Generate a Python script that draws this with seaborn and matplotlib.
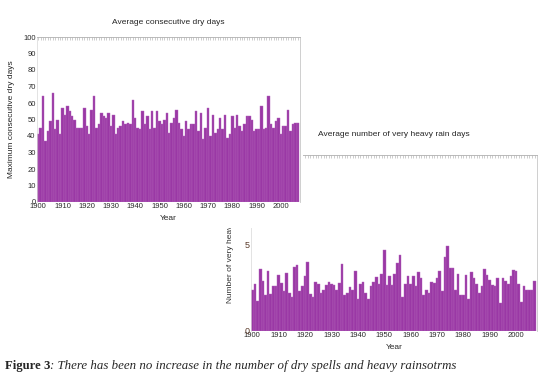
import numpy as np
import pandas as pd
import matplotlib
matplotlib.use("Agg")
import matplotlib.pyplot as plt
from matplotlib.patches import Rectangle
import seaborn as sns

# years 1900-2007
years = list(range(1900, 2008))

# average consecutive dry days
dry_days = [41, 45, 64, 37, 43, 49, 66, 44, 50, 41,
            57, 53, 58, 55, 52, 50, 45, 45, 45, 57,
            46, 41, 56, 64, 45, 47, 54, 52, 51, 54,
            46, 53, 41, 45, 46, 49, 47, 48, 47, 62,
            51, 45, 44, 55, 47, 52, 44, 55, 45, 55,
            49, 47, 50, 54, 42, 48, 51, 56, 48, 44,
            40, 49, 44, 47, 47, 55, 43, 54, 38, 45,
            57, 40, 53, 42, 44, 51, 44, 53, 39, 41,
            52, 45, 53, 46, 43, 47, 52, 52, 50, 43,
            44, 44, 58, 44, 45, 64, 47, 45, 49, 51,
            41, 46, 46, 56, 43, 47, 48, 48]

# average number of very heavy rain days
heavy_rain = [2.35, 2.75, 1.75, 3.6, 2.9, 2.1, 3.5, 2.15, 2.6, 2.6,
              3.25, 2.8, 2.3, 3.35, 2.2, 1.95, 3.7, 3.85, 2.3, 2.6,
              3.2, 4.0, 2.15, 1.95, 2.85, 2.75, 2.2, 2.4, 2.65, 2.85,
              2.75, 2.65, 2.4, 2.8, 3.9, 2.1, 2.2, 2.55, 2.4, 3.45,
              1.85, 2.75, 2.85, 2.2, 1.85, 2.6, 2.85, 3.15, 2.75, 3.3,
              4.7, 2.65, 3.2, 2.65, 3.3, 3.95, 4.4, 1.95, 2.75, 3.2,
              2.75, 3.2, 2.6, 3.4, 3.05, 2.1, 2.4, 2.2, 2.85, 2.8,
              3.1, 3.45, 2.3, 4.3, 4.9, 3.65, 3.65, 2.4, 3.3, 2.1,
              2.1, 3.25, 1.85, 3.4, 3.1, 2.75, 2.2, 2.6, 3.6, 3.25,
              2.95, 2.65, 2.6, 3.05, 1.6, 3.05, 2.9, 2.75, 3.2, 3.55,
              3.5, 2.7, 1.7, 2.6, 2.4, 2.4, 2.4, 2.9]

df = pd.DataFrame({"year": years, "dry": dry_days, "rain": heavy_rain})

sns.set_style("white")
plt.rcParams["font.family"] = ["Liberation Sans", "DejaVu Sans"]

bar_color = "#9a38a5"
edge_color = "#b464bc"
tick_kw = dict(labelsize=5.5, colors="#2a2a2a", length=0, pad=1)

fig = plt.figure(figsize=(5.45, 3.79), dpi=100)
W, H = 545, 379


def px_axes(left, top, right, bottom, z):
    return fig.add_axes([left / W, 1 - bottom / H, (right - left) / W, (bottom - top) / H], zorder=z)


def style_axes(ax):
    ax.spines["bottom"].set_visible(False)
    ax.spines["left"].set_color("#d8d8d8")
    ax.spines["left"].set_linewidth(0.5)
    ax.spines["top"].set_color("#b0b0b0")
    ax.spines["right"].set_color("#c8c8c8")
    ax.spines["top"].set_linewidth(0.6)
    ax.spines["right"].set_linewidth(0.6)
    ax.tick_params(axis="both", **tick_kw)
    ax.set_xticks(range(1900, 2001, 10))
    # little marks along the top frame
    top = ax.secondary_xaxis("top")
    top.set_xticks(years)
    top.set_xticklabels([])
    top.tick_params(direction="in", length=2, width=0.4, color="#a8a8a8")
    top.spines["top"].set_visible(False)
    ax.set_xlim(1899.5, 2007.9)


# bottom chart: heavy rain days
ax2 = px_axes(251, 155, 537, 331, 0)
sns.barplot(data=df, x="year", y="rain", native_scale=True, width=1,
            color=bar_color, edgecolor=edge_color, linewidth=0.3, saturation=1, ax=ax2)
style_axes(ax2)
ax2.set_ylim(0, 10.2)
ax2.set_yticks([0, 5])
ax2.set_yticklabels(["0", "5"], fontsize=6.5, color="#5a3a2a")
ax2.set_xlabel("Year", fontsize=6, labelpad=3)
ax2.set_ylabel("Number of very heavy rain days", fontsize=6, color="#333333", labelpad=8)
fig.text(394 / W, 1 - 135 / H, "Average number of very heavy rain days",
         ha="center", va="center", fontsize=6)

# white cover where the first chart sits on top of the second
fig.patches.append(Rectangle((0, 1 - 228 / H), 303 / W, 228 / H, transform=fig.transFigure,
                             facecolor="white", edgecolor="none", zorder=1))

# top chart: consecutive dry days
ax1 = px_axes(37, 37, 300, 202, 2)
sns.barplot(data=df, x="year", y="dry", native_scale=True, width=1,
            color=bar_color, edgecolor=edge_color, linewidth=0.3, saturation=1, ax=ax1)
style_axes(ax1)
ax1.set_ylim(0, 100)
ax1.set_yticks(range(0, 101, 10))
ax1.set_xlabel("Year", fontsize=6, labelpad=3)
ax1.set_ylabel("Maximum consecutive dry days", fontsize=6, labelpad=6)
fig.text(168 / W, 1 - 22 / H, "Average consecutive dry days",
         ha="center", va="center", fontsize=6)

# caption
cap1 = fig.text(5 / W, 1 - 366 / H, "Figure 3", fontsize=9.2, fontweight="bold",
                family="Liberation Serif", va="center")
r = fig.canvas.get_renderer()
bb = cap1.get_window_extent(renderer=r)
fig.text(bb.x1 / W, 1 - 366 / H,
         ": There has been no increase in the number of dry spells and heavy rainsotrms",
         fontsize=9.3, style="italic", family="Liberation Serif", va="center")

fig.savefig("out.png", dpi=100)
